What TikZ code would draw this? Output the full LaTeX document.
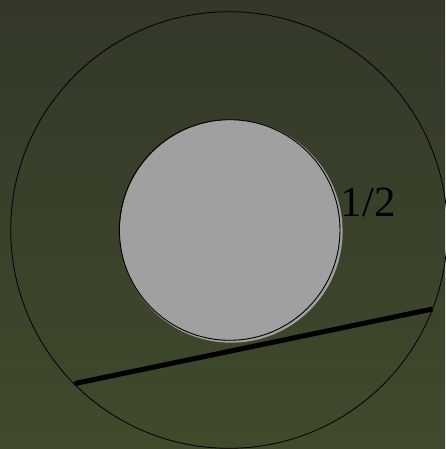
\documentclass[tikz,border=0pt]{standalone}
\usepackage{fontspec}
\setmainfont{Liberation Serif}
\definecolor{bgtop}{RGB}{51,56,41}
\definecolor{bgbot}{RGB}{64,74,44}
\definecolor{ballgray}{RGB}{160,160,160}
\tikzset{
  thinring/.style={draw=black, line width=0.8pt},
  ballfill/.style={fill=ballgray},
  balledge/.style={draw=black, line width=0.9pt},
  rampline/.style={draw=black, line width=5pt},
  lbl/.style={font=\fontsize{43}{50}\selectfont, text=black, inner sep=0pt, anchor=base west}
}
\begin{document}
\begin{tikzpicture}[x=1pt,y=-1pt]
\shade[top color=bgtop, bottom color=bgbot] (0,0) rectangle (445,449);
\useasboundingbox (0,0) rectangle (445,449);
\coordinate (oc) at (229,230);
\draw[thinring] (oc) circle (218.3);
\coordinate (gc) at (231.2,231.3);
\fill[ballfill] (gc) circle (111.4);
\coordinate (bc) at (229.7,230);
\draw[balledge] (bc) circle (110.3);
\coordinate (r1) at (75,383.5);
\coordinate (r2) at (432.5,309);
\draw[rampline] (r1) -- (r2);
\node[lbl] (half) at (340.5,216.5) {1/2};
\end{tikzpicture}
\end{document}
